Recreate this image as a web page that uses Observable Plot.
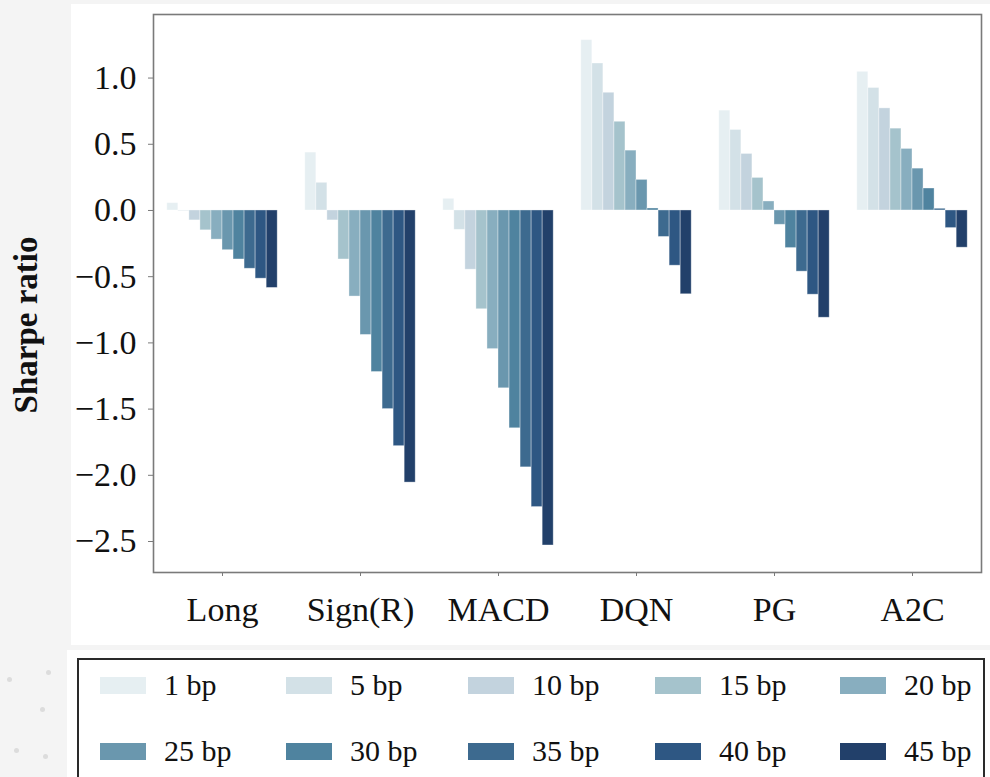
<!DOCTYPE html>
<html>
<head>
<meta charset="utf-8">
<script src="https://cdn.jsdelivr.net/npm/d3@7"></script>
<script src="https://cdn.jsdelivr.net/npm/@observablehq/plot@0.6"></script>
<style>
  html, body { margin: 0; padding: 0; }
  body { width: 990px; height: 777px; background: #f4f4f4; position: relative; overflow: hidden; font-family: "Liberation Serif", "DejaVu Serif", serif; }
  #panel { position: absolute; left: 71px; top: 4px; width: 919px; height: 641px; background: #fff; }
  #chart { position: absolute; left: 0; top: 0; }
  #ylabel { position: absolute; left: 26px; top: 325px; transform: translate(-50%, -50%) rotate(-90deg); font-weight: bold; font-size: 33px; color: #111; white-space: nowrap; }
  #legendPanel { position: absolute; left: 67px; top: 650px; width: 923px; height: 127px; background: #fff; }
  #legend { position: absolute; left: 77px; top: 658px; width: 908px; height: 130px; border: 2px solid #2a2a2a; box-sizing: border-box; }
  #legendGrid { position: absolute; left: 21px; top: -8px; display: grid; grid-template-columns: 186px 182px 187px 185px 150px; grid-auto-rows: 66px; }
  .item { display: flex; align-items: center; font-size: 30px; color: #111; }
  .sw { width: 46px; height: 17px; margin-right: 18px; flex: none; }
  .dot { position: absolute; width: 5px; height: 5px; border-radius: 50%; background: #dcdcdc; }
</style>
</head>
<body>
<div id="panel"></div>
<div id="chart"></div>
<div id="ylabel">Sharpe ratio</div>
<div id="legendPanel"></div>
<div id="legend"><div id="legendGrid"></div></div>
<div class="dot" style="left:7px;top:677px"></div>
<div class="dot" style="left:46px;top:670px"></div>
<div class="dot" style="left:40px;top:707px"></div>
<div class="dot" style="left:14px;top:748px"></div>
<div class="dot" style="left:43px;top:754px"></div>
<script>
const methods = ["Long", "Sign(R)", "MACD", "DQN", "PG", "A2C"];
const costs = ["1 bp", "5 bp", "10 bp", "15 bp", "20 bp", "25 bp", "30 bp", "35 bp", "40 bp", "45 bp"];
const colors = ["#e6eff2", "#d3e1e7", "#c3d3de", "#a5c3cc", "#88aebf", "#6a97ae", "#4f839f", "#3d6a8f", "#2e5783", "#22406a"];

const longVals  = [0.055, -0.005, -0.075, -0.15, -0.22, -0.30, -0.37, -0.44, -0.515, -0.585];
const signVals  = [0.437, 0.209, -0.075, -0.37, -0.65, -0.94, -1.22, -1.50, -1.78, -2.055];
const macdVals  = [0.088, -0.146, -0.447, -0.746, -1.047, -1.343, -1.645, -1.94, -2.24, -2.53];
const dqnVals   = [1.286, 1.11, 0.889, 0.67, 0.452, 0.231, 0.015, -0.20, -0.417, -0.633];
const pgVals    = [0.754, 0.608, 0.427, 0.246, 0.068, -0.108, -0.284, -0.462, -0.636, -0.81];
const a2cVals   = [1.047, 0.925, 0.771, 0.618, 0.465, 0.316, 0.166, 0.013, -0.133, -0.281];

const yTicks = [-2.5, -2.0, -1.5, -1.0, -0.5, 0.0, 0.5, 1.0];

const series = [longVals, signVals, macdVals, dqnVals, pgVals, a2cVals];
const barW = 0.08;
const data = [];
series.forEach((vals, gi) => {
  vals.forEach((v, j) => {
    const c = gi + (j - (costs.length - 1) / 2) * barW;
    data.push({method: methods[gi], cost: costs[j], value: v, x1: c - barW / 2, x2: c + barW / 2});
  });
});

const fmt = d3.format(".1f");

const chart = Plot.plot({
  width: 990,
  height: 645,
  marginLeft: 153,
  marginRight: 9,
  marginTop: 14,
  marginBottom: 73,
  style: {background: "transparent", fontFamily: "Liberation Serif, DejaVu Serif, serif", fontSize: "34px", color: "#111", overflow: "visible"},
  x: {domain: [-0.5, methods.length - 0.5]},
  y: {domain: [-2.734, 1.48]},
  color: {domain: costs, range: colors},
  marks: [
    Plot.rectY(data, {x1: "x1", x2: "x2", y: "value", fill: "cost", stroke: "white", strokeOpacity: 0.45, strokeWidth: 0.8}),
    Plot.frame({stroke: "#7a7a7a", strokeWidth: 1.6}),
    Plot.axisX({ticks: d3.range(methods.length), tickFormat: i => methods[i], tickSize: 4, tickPadding: 20, stroke: "#7a7a7a", fill: "#111", label: null, fontSize: 34}),
    Plot.axisY({ticks: yTicks, tickFormat: fmt, tickSize: 5, tickPadding: 12, stroke: "#7a7a7a", fill: "#111", label: null, fontSize: 34})
  ]
});
document.getElementById("chart").appendChild(chart);

const grid = document.getElementById("legendGrid");
costs.forEach((c, i) => {
  const item = document.createElement("div");
  item.className = "item";
  const sw = document.createElement("span");
  sw.className = "sw";
  sw.style.background = colors[i];
  const t = document.createElement("span");
  t.textContent = c;
  item.appendChild(sw);
  item.appendChild(t);
  grid.appendChild(item);
});
</script>
</body>
</html>
